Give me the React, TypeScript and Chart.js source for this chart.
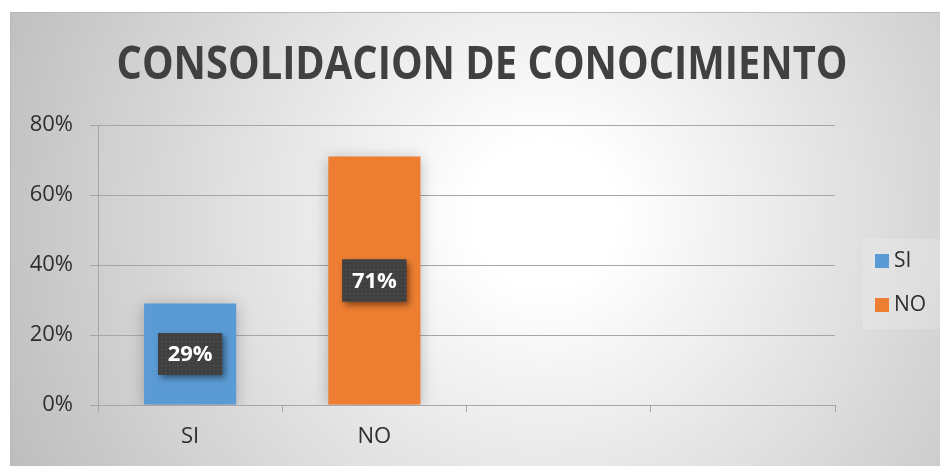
import React, { useEffect, useRef } from "react";
import { Chart, registerables } from "chart.js";

Chart.register(...registerables);

const categories = ["SI", "NO", "", ""];
const seriesNames = ["SI", "NO"];
const siValues = [0.29, null, null, null];
const noValues = [null, 0.71, null, null];
const yMax = 0.8;
const yStep = 0.2;
const titleText = "CONSOLIDACION DE CONOCIMIENTO";
const seriesColors = ["#5B9BD5", "#ED7D31"];

const FONT = "'Open Sans', 'DejaVu Sans', sans-serif";
const TEXT = "#2e2e2e";

let patternCache: CanvasPattern | null = null;
function getPattern(ctx: CanvasRenderingContext2D) {
  if (patternCache) return patternCache;
  const c = document.createElement("canvas");
  c.width = 4;
  c.height = 4;
  const p = c.getContext("2d")!;
  p.fillStyle = "#404040";
  p.fillRect(0, 0, 4, 4);
  p.fillStyle = "#585858";
  p.fillRect(1, 1, 1, 1);
  patternCache = ctx.createPattern(c, "repeat");
  return patternCache;
}

const decorPlugin = {
  id: "decor",
  beforeDraw(chart: any) {
    const ctx: CanvasRenderingContext2D = chart.ctx;
    const W = chart.width;
    const H = chart.height;
    ctx.save();
    ctx.fillStyle = "#ffffff";
    ctx.fillRect(0, 0, W, H);
    const g = ctx.createRadialGradient(545, 215, 0, 545, 215, 600);
    g.addColorStop(0, "#ffffff");
    g.addColorStop(0.12, "#ffffff");
    g.addColorStop(1, "#bcbcbc");
    ctx.fillStyle = g;
    ctx.fillRect(10, 12, W - 10, H - 12);
    ctx.strokeStyle = "#b8b8b8";
    ctx.lineWidth = 1;
    ctx.beginPath();
    ctx.moveTo(10, 12.5);
    ctx.lineTo(W, 12.5);
    ctx.moveTo(10.5, 12);
    ctx.lineTo(10.5, H);
    ctx.stroke();

    // title
    ctx.font = `bold 46px ${FONT}`;
    const w = ctx.measureText(titleText).width;
    const targetW = 731;
    const sx = targetW / w;
    ctx.translate(482, 66);
    ctx.scale(sx, 1);
    ctx.fillStyle = "#404040";
    ctx.textAlign = "center";
    ctx.textBaseline = "middle";
    ctx.fillText(titleText, 0, 0);
    ctx.restore();

    // legend box
    ctx.save();
    ctx.fillStyle = "rgba(255,255,255,0.18)";
    ctx.fillRect(863, 239, 77, 90);
    const items = chart.data.datasets;
    items.forEach((ds: any, i: number) => {
      const y = 254 + i * 44;
      ctx.fillStyle = ds.backgroundColor;
      ctx.fillRect(875, y, 14, 14);
      ctx.fillStyle = TEXT;
      ctx.font = `21px ${FONT}`;
      ctx.textAlign = "left";
      ctx.textBaseline = "middle";
      ctx.fillText(ds.label, 894, y + 7);
    });
    ctx.restore();
  },
  beforeDatasetsDraw(chart: any) {
    const ctx = chart.ctx;
    ctx.save();
    ctx.shadowColor = "rgba(0,0,0,0.25)";
    ctx.shadowBlur = 14;
    ctx.shadowOffsetX = 0;
    ctx.shadowOffsetY = 2;
  },
  afterDatasetsDraw(chart: any) {
    const ctx: CanvasRenderingContext2D = chart.ctx;
    ctx.restore();
    chart.data.datasets.forEach((ds: any, di: number) => {
      const meta = chart.getDatasetMeta(di);
      meta.data.forEach((el: any, i: number) => {
        const v = ds.data[i];
        if (v === null || v === undefined) return;
        const cx = el.x;
        const cy = (el.y + el.base) / 2;
        const bw = 64;
        const bh = 42;
        ctx.save();
        ctx.shadowColor = "rgba(0,0,0,0.45)";
        ctx.shadowBlur = 6;
        ctx.shadowOffsetX = 3;
        ctx.shadowOffsetY = 3;
        ctx.fillStyle = "#404040";
        ctx.fillRect(cx - bw / 2, cy - bh / 2, bw, bh);
        ctx.restore();
        ctx.save();
        ctx.fillStyle = getPattern(ctx) as any;
        ctx.fillRect(cx - bw / 2, cy - bh / 2, bw, bh);
        ctx.fillStyle = "#ffffff";
        ctx.font = `bold 22px ${FONT}`;
        ctx.textAlign = "center";
        ctx.textBaseline = "middle";
        ctx.fillText(Math.round(v * 100) + "%", cx, cy + 1);
        ctx.restore();
      });
    });
  },
};

export default function App() {
  const ref = useRef<HTMLCanvasElement>(null);
  useEffect(() => {
    const canvas = ref.current!;
    const chart = new Chart(canvas, {
      type: "bar",
      data: {
        labels: categories,
        datasets: [
          {
            label: seriesNames[0],
            data: siValues as any,
            backgroundColor: seriesColors[0],
            categoryPercentage: 1,
            barPercentage: 0.5,
          },
          {
            label: seriesNames[1],
            data: noValues as any,
            backgroundColor: seriesColors[1],
            categoryPercentage: 1,
            barPercentage: 0.5,
          },
        ],
      },
      options: {
        responsive: false,
        animation: false,
        events: [],
        layout: { padding: { left: 10, top: 125, right: 105, bottom: 0 } },
        plugins: {
          legend: { display: false },
          title: { display: false },
          tooltip: { enabled: false },
        },
        scales: {
          x: {
            stacked: true,
            offset: true,
            grid: {
              offset: true,
              drawOnChartArea: false,
              drawTicks: true,
              tickLength: 7,
              color: "#a6a6a6",
              tickColor: "#a6a6a6",
            },
            border: { display: true, color: "#a6a6a6", width: 1 },
            ticks: {
              color: TEXT,
              font: { family: FONT, size: 22 },
              padding: 12,
              autoSkip: false,
              maxRotation: 0,
            },
            afterFit: (s: any) => {
              s.height = 61;
            },
          },
          y: {
            stacked: true,
            min: 0,
            max: yMax,
            ticks: {
              stepSize: yStep,
              color: TEXT,
              font: { family: FONT, size: 22 },
              padding: 17,
              callback: (v: any) => Math.round(Number(v) * 100) + "%",
            },
            grid: {
              color: "#a6a6a6",
              tickColor: "#a6a6a6",
              tickLength: 8,
              lineWidth: 1,
            },
            border: { display: true, color: "#a6a6a6", width: 1 },
            afterFit: (s: any) => {
              s.width = 88;
            },
          },
        },
      },
      plugins: [decorPlugin],
    });
    return () => chart.destroy();
  }, []);
  return (
    <div style={{ position: "absolute", left: 0, top: 0, width: 940, height: 466 }}>
      <canvas ref={ref} width={940} height={466} style={{ display: "block" }} />
    </div>
  );
}
